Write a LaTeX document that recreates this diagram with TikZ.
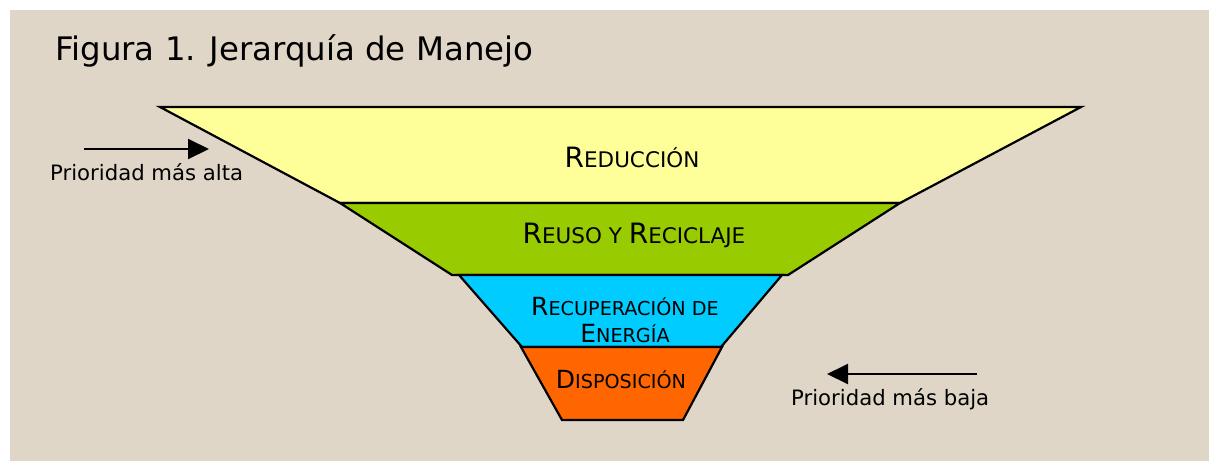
\documentclass[tikz,border=0pt]{standalone}
\usepackage{fontspec}
\setmainfont{DejaVu Sans}
\usetikzlibrary{arrows.meta}

\definecolor{fondo}{RGB}{223,214,200}
\definecolor{amarillo}{RGB}{255,255,153}
\definecolor{verde}{RGB}{153,204,0}
\definecolor{celeste}{RGB}{0,204,255}
\definecolor{naranja}{RGB}{255,102,0}

% small caps made by hand: big initial, smaller rest
\newcommand{\ini}[1]{{\fontsize{28}{30}\selectfont #1}}
\newcommand{\resto}[1]{{\fontsize{21.5}{30}\selectfont #1}}
\newcommand{\inichico}[1]{{\fontsize{25}{30}\selectfont #1}}
\newcommand{\restochico}[1]{{\fontsize{19.2}{30}\selectfont #1}}

\begin{document}
\begin{tikzpicture}[x=1pt, y=-1pt,
    banda/.style={draw=black, line width=2.2pt, line join=miter},
    rotulo/.style={inner sep=0pt, anchor=base, align=center},
    prioridad/.style={inner sep=0pt, anchor=base west, font=\fontsize{21.2}{24}\selectfont},
    flecha/.style={line width=2pt, -{Triangle[length=21pt, width=20pt]}}]

    \useasboundingbox (0,0) rectangle (1209,461);
    \fill[white] (0,0) rectangle (1209,461);
    \fill[fondo] (10,10) rectangle (1209,461);

    % Title
    \node[inner sep=0pt, anchor=base west, font=\fontsize{32.4}{36}\selectfont] (titulo) at (55,60) {Figura 1. Jerarquía de Manejo};

    % Bands of the funnel, from top to bottom
    \filldraw[banda, fill=amarillo] (160,107) -- (1081,107) -- (900,203) -- (340,203) -- cycle;
    \filldraw[banda, fill=verde] (340,203) -- (900,203) -- (788,275) -- (452,275) -- cycle;
    \filldraw[banda, fill=celeste] (459,275) -- (782,275) -- (721,347) -- (522,347) -- cycle;
    \filldraw[banda, fill=naranja] (521,347) -- (722,347) -- (683,420) -- (562,420) -- cycle;

    % Labels of the bands
    \node[rotulo] (RED) at (632,167) {\ini{R}\resto{EDUCCIÓN}};
    \node[rotulo] (REU) at (634,243) {\ini{R}\resto{EUSO Y }\ini{R}\resto{ECICLAJE}};
    \node[rotulo] (REC) at (625,342) {\inichico{R}\restochico{ECUPERACIÓN DE}\\[7pt]\inichico{E}\restochico{NERGÍA}};
    \node[rotulo] (DIS) at (621,388) {\inichico{D}\restochico{ISPOSICIÓN}};

    % Priority arrows
    \coordinate (alta0) at (84,149);
    \coordinate (alta1) at (209,149);
    \draw[flecha] (alta0) -- (alta1);
    \node[prioridad] (ALTA) at (50,180) {Prioridad más alta};

    \coordinate (baja0) at (977,374);
    \coordinate (baja1) at (827,374);
    \draw[flecha] (baja0) -- (baja1);
    \node[prioridad] (BAJA) at (791,405) {Prioridad más baja};
\end{tikzpicture}
\end{document}
